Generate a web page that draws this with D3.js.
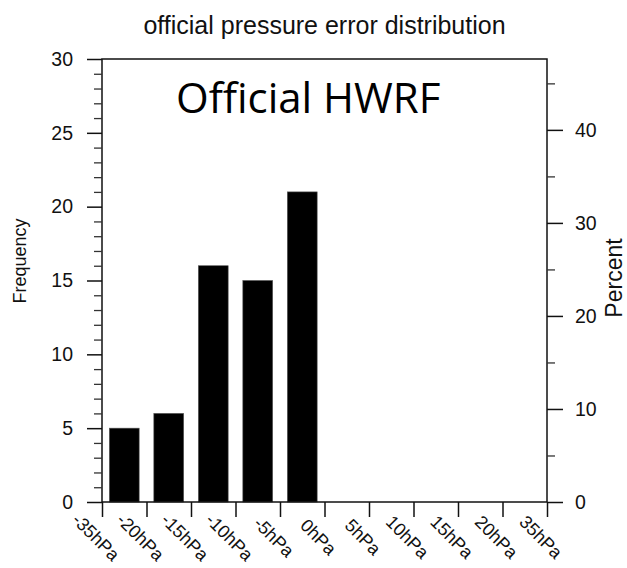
<!DOCTYPE html>
<html><head><meta charset="utf-8">
<script src="https://cdn.jsdelivr.net/npm/d3@7"></script>
<style>body{margin:0;background:#fff}svg{display:block}</style>
</head><body>
<svg id="c" width="627" height="568"></svg>
<script>
const title = "official pressure error distribution";
const overlayLabel = "Official HWRF";
const binEdges = ["-35hPa","-20hPa","-15hPa","-10hPa","-5hPa","0hPa","5hPa","10hPa","15hPa","20hPa","35hPa"];
const bins = ["b1","b2","b3","b4","b5","b6","b7","b8","b9","b10"];
const counts = [5,6,16,15,21,0,0,0,0,0];
const freqTicks = [0,5,10,15,20,25,30];
const pctTicks = [0,10,20,30,40];
const pctMinor = [5,15,25,35,45];

const svg = d3.select("#c");
const L=102,R=547,T=59,B=502;
const total = d3.sum(counts);
const y = d3.scaleLinear().domain([0,30]).range([B,T]);
const yP = d3.scaleLinear().domain([0,30/total*100]).range([B,T]);
const xe = d3.scaleLinear().domain([0,binEdges.length-1]).range([L,R]);
const xb = d3.scaleBand().domain(bins).range([L,R]).paddingInner(0.33).paddingOuter(0.165);
const font = "'Liberation Sans', Arial, Helvetica, sans-serif";
const ink = "#111";

// bars
const barData = counts.map((c,i)=>({b:bins[i],c})).filter(d=>d.c>0);
svg.append("g").selectAll("rect").data(barData)
  .join("rect").attr("x",d=>xb(d.b)).attr("width",xb.bandwidth())
  .attr("y",d=>y(d.c)).attr("height",d=>B-y(d.c)).attr("fill","#000")
  .attr("stroke","#555").attr("stroke-width",0.6);

// frame
svg.append("rect").attr("x",L).attr("y",T).attr("width",R-L).attr("height",B-T)
  .attr("fill","none").attr("stroke",ink).attr("stroke-width",1.5);

// left axis
const gl = svg.append("g").attr("transform",`translate(${L},0)`);
gl.call(d3.axisLeft(y).tickValues(d3.range(0,31).filter(v=>v%5)).tickSize(8).tickFormat(""))
  .call(g=>g.select(".domain").remove());
gl.selectAll("line").attr("stroke","#333").attr("stroke-width",1.3);
const gl2 = svg.append("g").attr("transform",`translate(${L},0)`)
  .call(d3.axisLeft(y).tickValues(freqTicks).tickSize(15).tickPadding(14));
gl2.select(".domain").remove();
gl2.selectAll("line").attr("stroke",ink).attr("stroke-width",1.5);
gl2.selectAll("text").attr("font-family",font).attr("font-size",19.5).attr("fill",ink);

// right axis
const gr = svg.append("g").attr("transform",`translate(${R},0)`);
gr.call(d3.axisRight(yP).tickValues(pctMinor).tickSize(8).tickFormat(""))
  .call(g=>g.select(".domain").remove());
gr.selectAll("line").attr("stroke","#333").attr("stroke-width",1.3);
const gr2 = svg.append("g").attr("transform",`translate(${R},0)`)
  .call(d3.axisRight(yP).tickValues(pctTicks).tickSize(16).tickPadding(12));
gr2.select(".domain").remove();
gr2.selectAll("line").attr("stroke",ink).attr("stroke-width",1.5);
gr2.selectAll("text").attr("font-family",font).attr("font-size",19.5).attr("fill",ink);

// bottom axis
const gb = svg.append("g").attr("transform",`translate(0,${B})`)
  .call(d3.axisBottom(xe).tickValues(d3.range(binEdges.length)).tickSize(15).tickFormat(""));
gb.select(".domain").remove();
gb.selectAll("line").attr("stroke",ink).attr("stroke-width",1.5);
svg.append("g").selectAll("text").data(binEdges).join("text")
  .attr("transform",(d,i)=>`translate(${xe(i)-6},537) rotate(45)`)
  .attr("text-anchor","middle").attr("dy","0.35em")
  .attr("font-family",font).attr("font-size",18).attr("fill",ink).text(d=>d);

// titles
svg.append("text").attr("x",(L+R)/2).attr("y",34).attr("text-anchor","middle")
  .attr("font-family",font).attr("font-size",25).attr("fill",ink).text(title);
svg.append("text").attr("transform","translate(26,261) rotate(-90)").attr("text-anchor","middle")
  .attr("font-family",font).attr("font-size",18).attr("fill",ink).text("Frequency");
svg.append("text").attr("transform","translate(622,278) rotate(-90)").attr("text-anchor","middle")
  .attr("font-family",font).attr("font-size",23).attr("fill",ink).text("Percent");

svg.append("text").attr("x",176).attr("y",113)
  .attr("font-family","'Open Sans', Lato, sans-serif").attr("font-size",42).attr("fill","#000").text(overlayLabel);
</script>
</body></html>
